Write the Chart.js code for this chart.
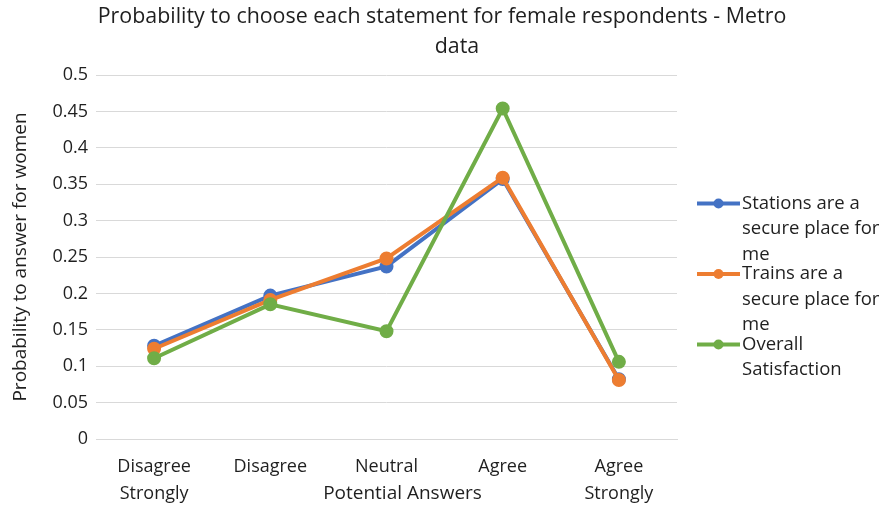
<!DOCTYPE html>
<html>
<head>
<meta charset="utf-8">
<script src="https://cdn.jsdelivr.net/npm/chart.js@4/dist/chart.umd.min.js"></script>
<style>
  html, body { margin: 0; padding: 0; background: #ffffff; }
  #wrap { width: 884px; height: 508px; position: relative; }
</style>
</head>
<body>
<div id="wrap"><canvas id="c" width="884" height="508"></canvas></div>
<script>
// Answer categories (two-line tick labels)
const categories = [
  ["Disagree", "Strongly"],
  ["Disagree"],
  ["Neutral"],
  ["Agree"],
  ["Agree", "Strongly"]
];

// Probability of each answer, female respondents
const stationsSecure = [0.128, 0.197, 0.237, 0.357, 0.082];
const trainsSecure   = [0.124, 0.191, 0.248, 0.359, 0.081];
const overallSatisf  = [0.111, 0.185, 0.148, 0.454, 0.106];

// Legend text, already broken into lines
const stationsLabel = ["Stations are a", "secure place for", "me"];
const trainsLabel   = ["Trains are a", "secure place for", "me"];
const overallLabel  = ["Overall", "Satisfaction"];

const titleLines = ["Probability to choose each statement for female respondents - Metro", "data"];
const xAxisTitle = "Potential Answers";
const yAxisTitle = "Probability to answer for women";

const yTicks = [0, 0.05, 0.1, 0.15, 0.2, 0.25, 0.3, 0.35, 0.4, 0.45, 0.5];

const FONT = "'Open Sans', 'Noto Sans', sans-serif";
const TEXT = "#1f1f1f";
const LEGEND_WIDTH = 207;

function series(label, lines, data, color, order) {
  return {
    label: label,
    legendLines: lines,
    data: data,
    order: order,
    borderColor: color,
    backgroundColor: color,
    borderWidth: 4,
    pointRadius: 5,
    pointHoverRadius: 5,
    pointBackgroundColor: color,
    pointBorderColor: color,
    tension: 0
  };
}

// Reserves a column on the right and draws a legend with wrapped lines in it
const wrappedLegend = {
  id: 'wrappedLegend',
  beforeInit(chart) {
    const box = {
      position: 'right',
      weight: 0,
      fullSize: false,
      options: {},
      top: 0, bottom: 0, left: 0, right: 0, width: 0, height: 0,
      isHorizontal() { return false; },
      update(maxWidth, maxHeight) { this.width = LEGEND_WIDTH; this.height = maxHeight; },
      draw() {}
    };
    Chart.layouts.addBox(chart, box);
  },
  afterDraw(chart) {
    const ctx = chart.ctx;
    const x0 = chart.chartArea.right + 20;
    let y = 203.5;
    ctx.save();
    ctx.font = "18.5px " + FONT;
    ctx.textBaseline = 'middle';
    ctx.textAlign = 'left';
    chart.data.datasets.forEach(ds => {
      ctx.strokeStyle = ds.borderColor;
      ctx.lineWidth = 4;
      ctx.beginPath();
      ctx.moveTo(x0, y);
      ctx.lineTo(x0 + 43, y);
      ctx.stroke();
      ctx.fillStyle = ds.borderColor;
      ctx.beginPath();
      ctx.arc(x0 + 21.5, y, 5, 0, Math.PI * 2);
      ctx.fill();
      ctx.fillStyle = TEXT;
      ds.legendLines.forEach((line, i) => {
        ctx.fillText(line, x0 + 45, y + i * 25.5);
      });
      y += 70.5;
    });
    ctx.restore();
  }
};

// Chart title above the plot and the category axis title below it
const titles = {
  id: 'titles',
  afterDraw(chart) {
    const ctx = chart.ctx;
    const cx = chart.width / 2;
    ctx.save();
    ctx.fillStyle = TEXT;
    ctx.textBaseline = 'middle';
    ctx.textAlign = 'center';
    ctx.font = "21.4px " + FONT;
    ctx.fillText(titleLines[0], cx, 17);
    ctx.fillText(titleLines[1], cx + 15, 47);
    ctx.font = "19px " + FONT;
    const area = chart.chartArea;
    ctx.fillText(xAxisTitle, (area.left + area.right) / 2 + 16, 494);
    ctx.restore();
  }
};

new Chart(document.getElementById('c'), {
  type: 'line',
  data: {
    labels: categories,
    datasets: [
      series(stationsLabel.join(' '), stationsLabel, stationsSecure, '#4472C4', 2),
      series(trainsLabel.join(' '), trainsLabel, trainsSecure, '#ED7D31', 1),
      series(overallLabel.join(' '), overallLabel, overallSatisf, '#70AD47', 0)
    ]
  },
  options: {
    responsive: false,
    animation: false,
    events: [],
    layout: { padding: { top: 75, right: 0, bottom: 0, left: 0 } },
    plugins: {
      legend: { display: false },
      tooltip: { enabled: false },
      title: { display: false }
    },
    scales: {
      x: {
        offset: true,
        grid: { display: false, drawTicks: false },
        border: { display: true, color: '#D9D9D9', width: 1 },
        ticks: {
          color: TEXT,
          font: { family: FONT, size: 18, lineHeight: 27 / 18 },
          padding: 14,
          maxRotation: 0,
          autoSkip: false
        },
        afterFit(scale) { scale.height = 69; }
      },
      y: {
        min: 0,
        max: 0.5,
        afterBuildTicks(scale) { scale.ticks = yTicks.map(v => ({ value: v })); },
        grid: { color: '#D9D9D9', lineWidth: 1, drawTicks: false },
        border: { display: false },
        ticks: {
          color: TEXT,
          font: { family: FONT, size: 18 },
          padding: 8,
          callback: v => String(v)
        },
        title: {
          display: true,
          text: yAxisTitle,
          color: TEXT,
          font: { family: FONT, size: 19, lineHeight: 1.2 },
          padding: { top: 9, bottom: 0 }
        },
        afterFit(scale) { scale.width = 96; }
      }
    }
  },
  plugins: [wrappedLegend, titles]
});
</script>
</body>
</html>
